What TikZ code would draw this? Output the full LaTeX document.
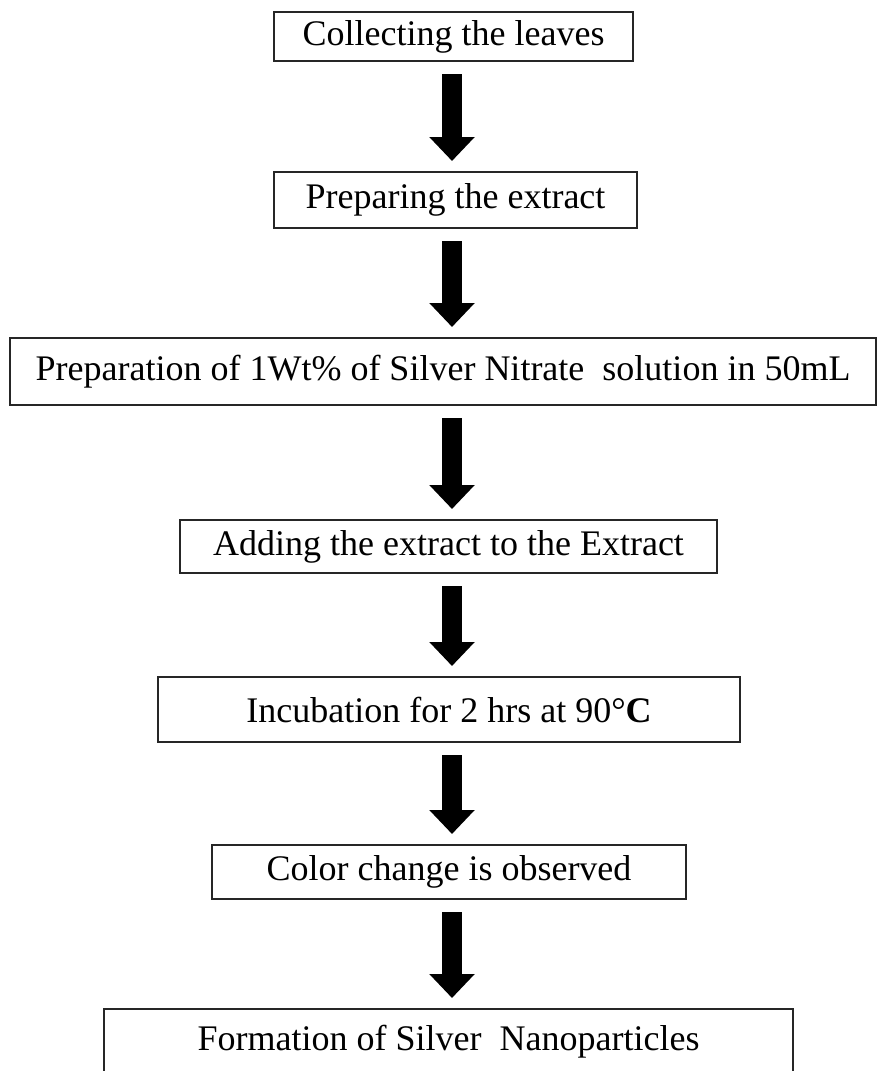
\documentclass[tikz,border=0pt]{standalone}
\usepackage{fontspec}
\setmainfont{Liberation Serif}
\usetikzlibrary{arrows.meta,positioning}

\begin{document}
\begin{tikzpicture}[
    x=1pt, y=-1pt,
    stage/.style={rectangle, draw=black!85, line width=2pt, inner sep=0pt,
        align=center, font=\fontsize{36}{40}\selectfont},
    flow/.style={line width=20pt, -{Triangle[width=44pt,length=24pt]},
        shorten <=12pt, shorten >=10pt}
]
    \clip (0,0) rectangle (878,1071);
    \coordinate (axis) at (452,0);

    \node[stage, minimum width=359pt, minimum height=49pt] (leaves) at (453.5,36.5) {Collecting the leaves};
    \node[stage, minimum width=363pt, minimum height=56pt] (extract) at (455.5,200) {Preparing the extract};
    \node[stage, minimum width=866pt, minimum height=67pt] (nitrate) at (443,371.5) {Preparation of 1Wt\% of Silver Nitrate\ \ solution in 50mL};
    \node[stage, minimum width=537pt, minimum height=53pt] (adding) at (448.5,546.5) {Adding the extract to the Extract};
    \node[stage, minimum width=582pt, minimum height=65pt] (incub) at (449,709.5) {Incubation for 2 hrs at 90°\textbf{C}};
    \node[stage, minimum width=474pt, minimum height=54pt] (color) at (449,872) {Color change is observed};
    \node[stage, minimum width=689pt, minimum height=66pt] (nano) at (448.5,1042) {Formation of Silver\ \ Nanoparticles};

    \draw[flow] (leaves.south -| axis) -- (extract.north -| axis);
    \draw[flow] (extract.south -| axis) -- (nitrate.north -| axis);
    \draw[flow] (nitrate.south -| axis) -- (adding.north -| axis);
    \draw[flow] (adding.south -| axis) -- (incub.north -| axis);
    \draw[flow] (incub.south -| axis) -- (color.north -| axis);
    \draw[flow] (color.south -| axis) -- (nano.north -| axis);
\end{tikzpicture}
\end{document}
